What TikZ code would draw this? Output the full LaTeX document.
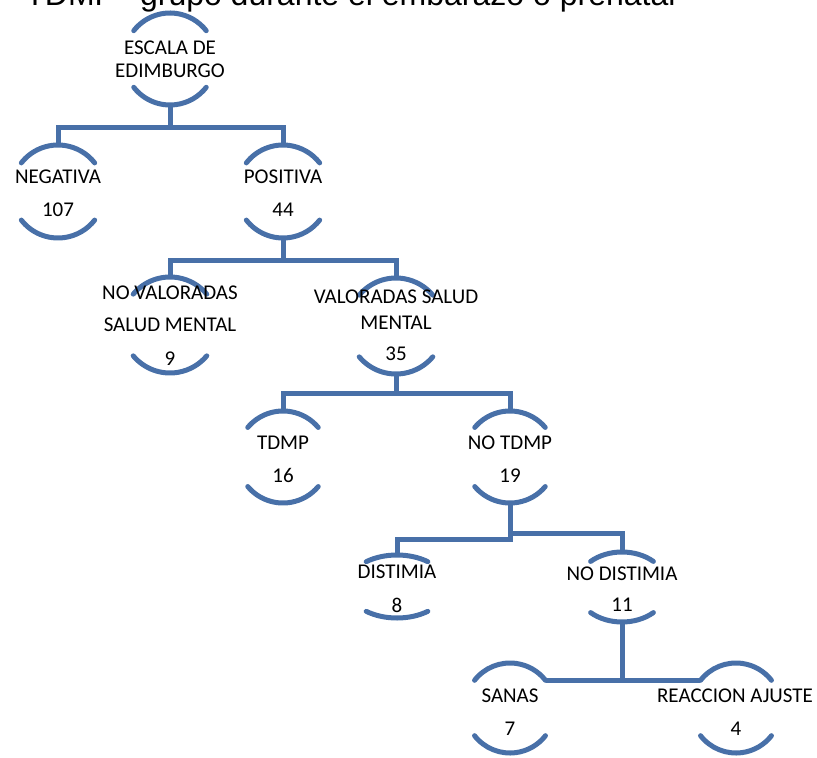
\documentclass[tikz,border=0pt]{standalone}
\usepackage{fontspec}
\setmainfont{Liberation Sans}
\newfontfamily\calibri{Carlito}
\usetikzlibrary{calc,shapes.geometric}
\definecolor{treeblue}{RGB}{72,112,168}
\tikzset{
  hub/.style={circle, minimum size=#1, inner sep=0pt},
  flat/.style 2 args={ellipse, minimum width=#1, minimum height=#2, inner sep=0pt},
  arcline/.style={draw=treeblue, line width=2.5pt, line cap=round},
  link/.style={draw=treeblue, line width=2.5pt},
  lbl/.style={anchor=base, inner sep=0pt, font=\calibri\fontsize{10.5}{12}\selectfont},
  title/.style={anchor=base west, inner sep=0pt, font=\fontsize{16}{19}\selectfont}
}
% two arcs round a node: name, x radius, y radius, angle
\newcommand{\halfmoons}[4]{%
  \draw[arcline] ($(#1)+(180-#4:#2 and #3)$) arc[start angle=180-#4, end angle=#4, x radius=#2, y radius=#3];
  \draw[arcline] ($(#1)+(180+#4:#2 and #3)$) arc[start angle=180+#4, end angle=360-#4, x radius=#2, y radius=#3];}
\begin{document}
\begin{tikzpicture}[x=0.5pt, y=-0.5pt]
  \useasboundingbox (0,0) rectangle (817,758);
  \node[title] (title) at (25,6) {TDMP\hspace{12pt}grupo durante el embarazo o prenatal};

  % tree nodes
  \node[hub=46pt] (escala) at (170,59) {};
  \node[hub=46.5pt] (negativa) at (58,191.5) {};
  \node[hub=46.5pt] (positiva) at (283,191.5) {};
  \node[hub=48pt] (novaloradas) at (170,325) {};
  \node[hub=48pt] (valoradas) at (396,326) {};
  \node[hub=46pt] (tdmp) at (283,457) {};
  \node[hub=46pt] (notdmp) at (510,457) {};
  \node[flat={50pt}{31.5pt}] (distimia) at (397,586.5) {};
  \node[flat={46pt}{35pt}] (nodistimia) at (622,587) {};
  \node[hub=45pt] (sanas) at (510,708) {};
  \node[hub=45pt] (reaccion) at (736,708) {};

  \halfmoons{escala}{23pt}{23pt}{38}
  \halfmoons{negativa}{23.25pt}{23.25pt}{38}
  \halfmoons{positiva}{23.25pt}{23.25pt}{38}
  \halfmoons{novaloradas}{24pt}{24pt}{40}
  \halfmoons{valoradas}{24pt}{24pt}{40}
  \halfmoons{tdmp}{23pt}{23pt}{40}
  \halfmoons{notdmp}{23pt}{23pt}{40}
  \halfmoons{distimia}{25pt}{15.75pt}{52}
  \halfmoons{nodistimia}{23pt}{17.5pt}{47}
  \halfmoons{sanas}{22.5pt}{22.5pt}{38}
  \halfmoons{reaccion}{22.5pt}{22.5pt}{38}

  % connectors
  \draw[link] (escala.south) -- ++(0,22) coordinate (fork1) -| (negativa.north);
  \draw[link] (fork1) -| (positiva.north);
  \draw[link] (positiva.south) -- ++(0,22) coordinate (fork2) -| (novaloradas.north);
  \draw[link] (fork2) -| (valoradas.north);
  \draw[link] (valoradas.south) -- ++(0,19) coordinate (fork3) -| (tdmp.north);
  \draw[link] (fork3) -| (notdmp.north);
  \draw[link] (notdmp.south) -- ++(0,36) -| (distimia.north);
  \draw[link] (notdmp.south) -- ++(0,30) -| (nodistimia.north);
  \draw[link] (nodistimia.south) -- (nodistimia.south |- sanas.38);
  \draw[link] (sanas.38) -- (reaccion.142);

  % labels
  \node[lbl] (escala-a) at (170,55) {ESCALA DE};
  \node[lbl] (escala-b) at (170,78) {EDIMBURGO};
  \node[lbl] (negativa-a) at (58,184) {NEGATIVA};
  \node[lbl] (negativa-n) at (58,217) {107};
  \node[lbl] (positiva-a) at (283,184) {POSITIVA};
  \node[lbl] (positiva-n) at (283,217) {44};
  \node[lbl] (novaloradas-a) at (170,300) {NO VALORADAS};
  \node[lbl] (novaloradas-b) at (170,332) {SALUD MENTAL};
  \node[lbl] (novaloradas-n) at (170,365) {9};
  \node[lbl] (valoradas-a) at (396,304) {VALORADAS SALUD};
  \node[lbl] (valoradas-b) at (396,329) {MENTAL};
  \node[lbl] (valoradas-n) at (396,360) {35};
  \node[lbl] (tdmp-a) at (283,449) {TDMP};
  \node[lbl] (tdmp-n) at (283,482) {16};
  \node[lbl] (notdmp-a) at (510,449) {NO TDMP};
  \node[lbl] (notdmp-n) at (510,482) {19};
  \node[lbl] (distimia-a) at (397,578) {DISTIMIA};
  \node[lbl] (distimia-n) at (397,612) {8};
  \node[lbl] (nodistimia-a) at (622,580) {NO DISTIMIA};
  \node[lbl] (nodistimia-n) at (622,611) {11};
  \node[lbl] (sanas-a) at (510,702) {SANAS};
  \node[lbl] (sanas-n) at (510,735) {7};
  \node[lbl] (reaccion-a) at (735,702) {REACCION AJUSTE};
  \node[lbl] (reaccion-n) at (736,735) {4};
\end{tikzpicture}
\end{document}
